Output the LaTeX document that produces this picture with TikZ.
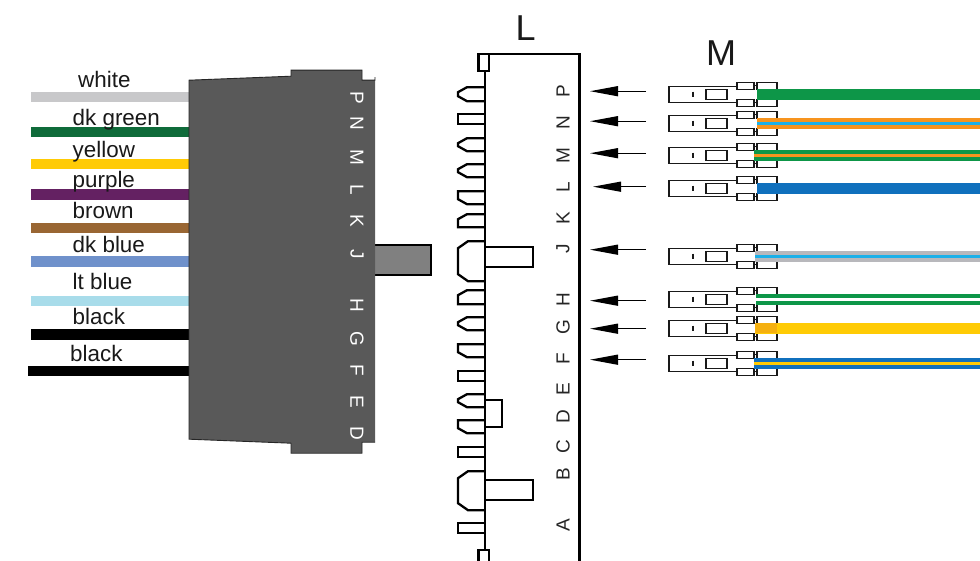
\documentclass[tikz,border=0pt]{standalone}
\usepackage{fontspec}
\setmainfont{Liberation Sans}
\usetikzlibrary{arrows.meta}
\definecolor{blockgrey}{HTML}{595959}
\definecolor{peggrey}{HTML}{808080}
\definecolor{wwhite}{HTML}{C8C8CA}
\definecolor{wdkgreen}{HTML}{0F6B3A}
\definecolor{wyellow}{HTML}{FFCB05}
\definecolor{wamber}{HTML}{F5B010}
\definecolor{wpurple}{HTML}{642162}
\definecolor{wbrown}{HTML}{996633}
\definecolor{wdkblue}{HTML}{6F91CB}
\definecolor{wltblue}{HTML}{A8DCEA}
\definecolor{wgreen}{HTML}{0D9648}
\definecolor{worange}{HTML}{F7941E}
\definecolor{wblue}{HTML}{1070BD}
\definecolor{wsky}{HTML}{1CB0E8}
\definecolor{wgrey}{HTML}{B8B8BC}
\tikzset{
  wirelabel/.style={inner sep=0pt,anchor=base west,font=\fontsize{22.4}{22.4}\selectfont,text=black!90},
  biglabel/.style={inner sep=0pt,anchor=base west,font=\fontsize{36}{36}\selectfont,text=black!90},
  pinlight/.style={inner sep=0pt,rotate=-90,font=\fontsize{19}{19}\selectfont,text=white},
  pindark/.style={inner sep=0pt,rotate=90,font=\fontsize{19}{19}\selectfont,text=black!85},
  wirel/.style={line width=10.5pt},
  wirer/.style={line width=11pt},
  stripe/.style={line width=3pt},
  part/.style={draw=black,line width=2.3pt,line join=miter},
  term/.style={draw=black!90,line width=1.3pt},
  pointer/.style={draw=black,line width=1.3pt,-{Stealth[length=28pt,width=10pt,inset=0pt]}}
}
\newcommand{\toothBoth}[2]{\draw[part] (485,#1) -- (467,#1) -- (458,{#1+5}) -- (458,{#2-5}) -- (467,#2) -- (485,#2);}
\newcommand{\toothSq}[2]{\draw[part] (485,#1) -- (458,#1) -- (458,#2) -- (485,#2);}
\newcommand{\toothTop}[2]{\draw[part] (485,#1) -- (467,#1) -- (458,{#1+5}) -- (458,#2) -- (485,#2);}
\newcommand{\toothBot}[2]{\draw[part] (485,#1) -- (458,#1) -- (458,{#2-5}) -- (467,#2) -- (485,#2);}
\newcommand{\toothBig}[2]{\draw[part] (485,#1) -- (468,#1) -- (458,{#1+7}) -- (458,{#2-7}) -- (468,#2) -- (485,#2);}
\newcommand{\terminal}[1]{%
  \draw[term] (737,{#1-8}) -- (669,{#1-8}) -- (669,{#1+8}) -- (737,{#1+8});
  \draw[term] (706,{#1-5}) rectangle (727,{#1+5});
  \draw[term,line width=1.5pt] (693,{#1-2.5}) -- (693,{#1+2.5});
  \draw[term] (737,{#1-12}) rectangle (754,{#1-5});
  \draw[term] (737,{#1+5}) rectangle (754,{#1+12});
  \draw[term] (757,{#1-12}) rectangle (777,{#1-5});
  \draw[term] (757,{#1+5}) rectangle (777,{#1+12});
  \draw[term] (754,{#1-8.5}) -- (757,{#1-8.5});
  \draw[term] (754,{#1+8.5}) -- (757,{#1+8.5});
}
\begin{document}
\begin{tikzpicture}[x=1pt,y=-1pt]
\useasboundingbox (0,0) rectangle (980,561);
\fill[white] (0,0) rectangle (980,561);
\begin{scope}[yshift=-0.2pt]
\coordinate (wa) at (31,97);   \coordinate (wA) at (190,97);
\coordinate (wb) at (31,132);  \coordinate (wB) at (190,132);
\coordinate (wc) at (31,164);  \coordinate (wC) at (190,164);
\coordinate (wd) at (31,194.5);\coordinate (wD) at (190,194.5);
\coordinate (we) at (31,228);  \coordinate (wE) at (190,228);
\coordinate (wf) at (31,261.5);\coordinate (wF) at (190,261.5);
\coordinate (wg) at (31,301);  \coordinate (wG) at (190,301);
\coordinate (wh) at (31,334.5);\coordinate (wH) at (190,334.5);
\coordinate (wi) at (28,371);  \coordinate (wI) at (190,371);
\draw[wirel,wwhite] (wa) -- (wA);
\draw[wirel,wdkgreen] (wb) -- (wB);
\draw[wirel,wyellow] (wc) -- (wC);
\draw[wirel,wpurple] (wd) -- (wD);
\draw[wirel,wbrown] (we) -- (wE);
\draw[wirel,wdkblue] (wf) -- (wF);
\draw[wirel,wltblue] (wg) -- (wG);
\draw[wirel,black] (wh) -- (wH);
\draw[wirel,black] (wi) -- (wI);
\node[wirelabel] (lwhite) at (78,87) {white};
\node[wirelabel] (ldkgreen) at (72.5,125.8) {dk green};
\node[wirelabel] (lyellow) at (72.5,157.8) {yellow};
\node[wirelabel] (lpurple) at (72.5,187.8) {purple};
\node[wirelabel] (lbrown) at (72.5,218.8) {brown};
\node[wirelabel] (ldkblue) at (72.5,252.8) {dk blue};
\node[wirelabel] (lltblue) at (72.5,289.8) {lt blue};
\node[wirelabel] (lblack) at (72.5,324.8) {black};
\node[wirelabel] (lblackb) at (70,361.8) {black};
\draw[draw=black,fill=peggrey,line width=2.3pt] (372,245) rectangle (431,274.5);
\fill[blockgrey] (189,80) -- (291,76) -- (291,70) -- (362,70) -- (362,80) -- (375,80) -- (375,442) -- (362,442) -- (362,453) -- (291,453) -- (291,443) -- (189,439) -- cycle;
\draw[black!85,line width=.9pt] (375,77) -- (375,80) -- (362,80) -- (362,70) -- (291,70) -- (291,76) -- (189,80) -- (189,439) -- (291,443) -- (291,453) -- (362,453) -- (362,442) -- (375,442);
\foreach \t/\y in {P/97.5,N/123.5,M/157.5,L/189.5,K/220.5,J/254.5,H/305.5,G/338.5,F/370.5,E/401.5,D/433.5}
  \node[pinlight] (dark\t) at (357,\y) {\t};
\toothBoth{87}{101}
\toothSq{114}{124}
\toothBoth{138}{151}
\toothBoth{164}{177}
\toothBot{191}{204}
\toothTop{214}{227}
\toothBig{241}{281}
\toothTop{290}{304}
\toothBoth{317}{330}
\toothBot{344}{357}
\toothSq{371}{381}
\toothBoth{394}{407}
\toothBot{420}{433}
\toothSq{447}{457}
\toothBig{471}{510}
\toothSq{523}{533}
\draw[part] (485,247) rectangle (533,267);
\draw[part] (485,480) rectangle (533,500);
\draw[part] (485,400) rectangle (502,427);
\draw[part] (485,563) -- (485,54) -- (579.5,54) -- (579.5,563);
\draw[part,fill=white] (478.5,54) rectangle (489,71);
\draw[part,fill=white] (478.5,564) -- (478.5,550) -- (489,550) -- (489,564);
\foreach \t/\y in {P/90.5,N/122.5,M/155.5,L/187.5,K/217.5,J/248.5,H/299.5,G/326.5,F/358.5,E/388.5,D/416.5,C/446.5,B/473.5,A/524.5}
  \node[pindark] (pin\t) at (563,\y) {\t};
\node[biglabel] (labL) at (515.5,40.5) {L};
\node[biglabel] (labM) at (706,65) {M};
\foreach \n/\y/\xa/\xb in {a/91/646/590,b/121/646/590,c/153/646/590,d/186.5/646/593,e/249.5/646/590,f/300.5/646/590,g/328.5/646/590,h/359.5/646/590}{
  \coordinate (s\n) at (\xa,\y);
  \coordinate (t\n) at (\xb,\y);
  \draw[pointer] (s\n) -- (t\n);
}
\foreach \y in {94,123,155,188,256,299,328,363} \terminal{\y}
\coordinate (ra) at (757,94.5);   \coordinate (rA) at (980,94.5);
\coordinate (rb) at (757,123.3);  \coordinate (rB) at (980,123.3);
\coordinate (rc) at (754,155.5);\coordinate (rC) at (980,155.5);
\coordinate (rd) at (757,188.5);  \coordinate (rD) at (980,188.5);
\coordinate (re) at (755,256);  \coordinate (rE) at (980,256);
\coordinate (rf) at (756,299);  \coordinate (rF) at (980,299);
\coordinate (rg) at (755,328);  \coordinate (rG) at (980,328);
\coordinate (rgm) at (777,328);
\coordinate (rh) at (754,363.5);  \coordinate (rH) at (980,363.5);
\draw[wirer,wgreen] (ra) -- (rA);
\draw[wirer,worange] (rb) -- (rB);
\draw[stripe,wsky] (rb) -- (rB);
\draw[wirer,wgreen] (rc) -- (rC);
\draw[stripe,worange] (rc) -- (rC);
\draw[wirer,wblue] (rd) -- (rD);
\draw[wirer,wgrey] (re) -- (rE);
\draw[stripe,wsky] (re) -- (rE);
\draw[wirer,wgreen] (rf) -- (rF);
\draw[stripe,white] (rf) -- (rF);
\draw[wirer,wyellow] (rg) -- (rG);
\draw[line width=9.5pt,wamber] (rg) -- (rgm);
\draw[wirer,wblue] (rh) -- (rH);
\draw[stripe,wyellow] (rh) -- (rH);
\end{scope}
\end{tikzpicture}
\end{document}
